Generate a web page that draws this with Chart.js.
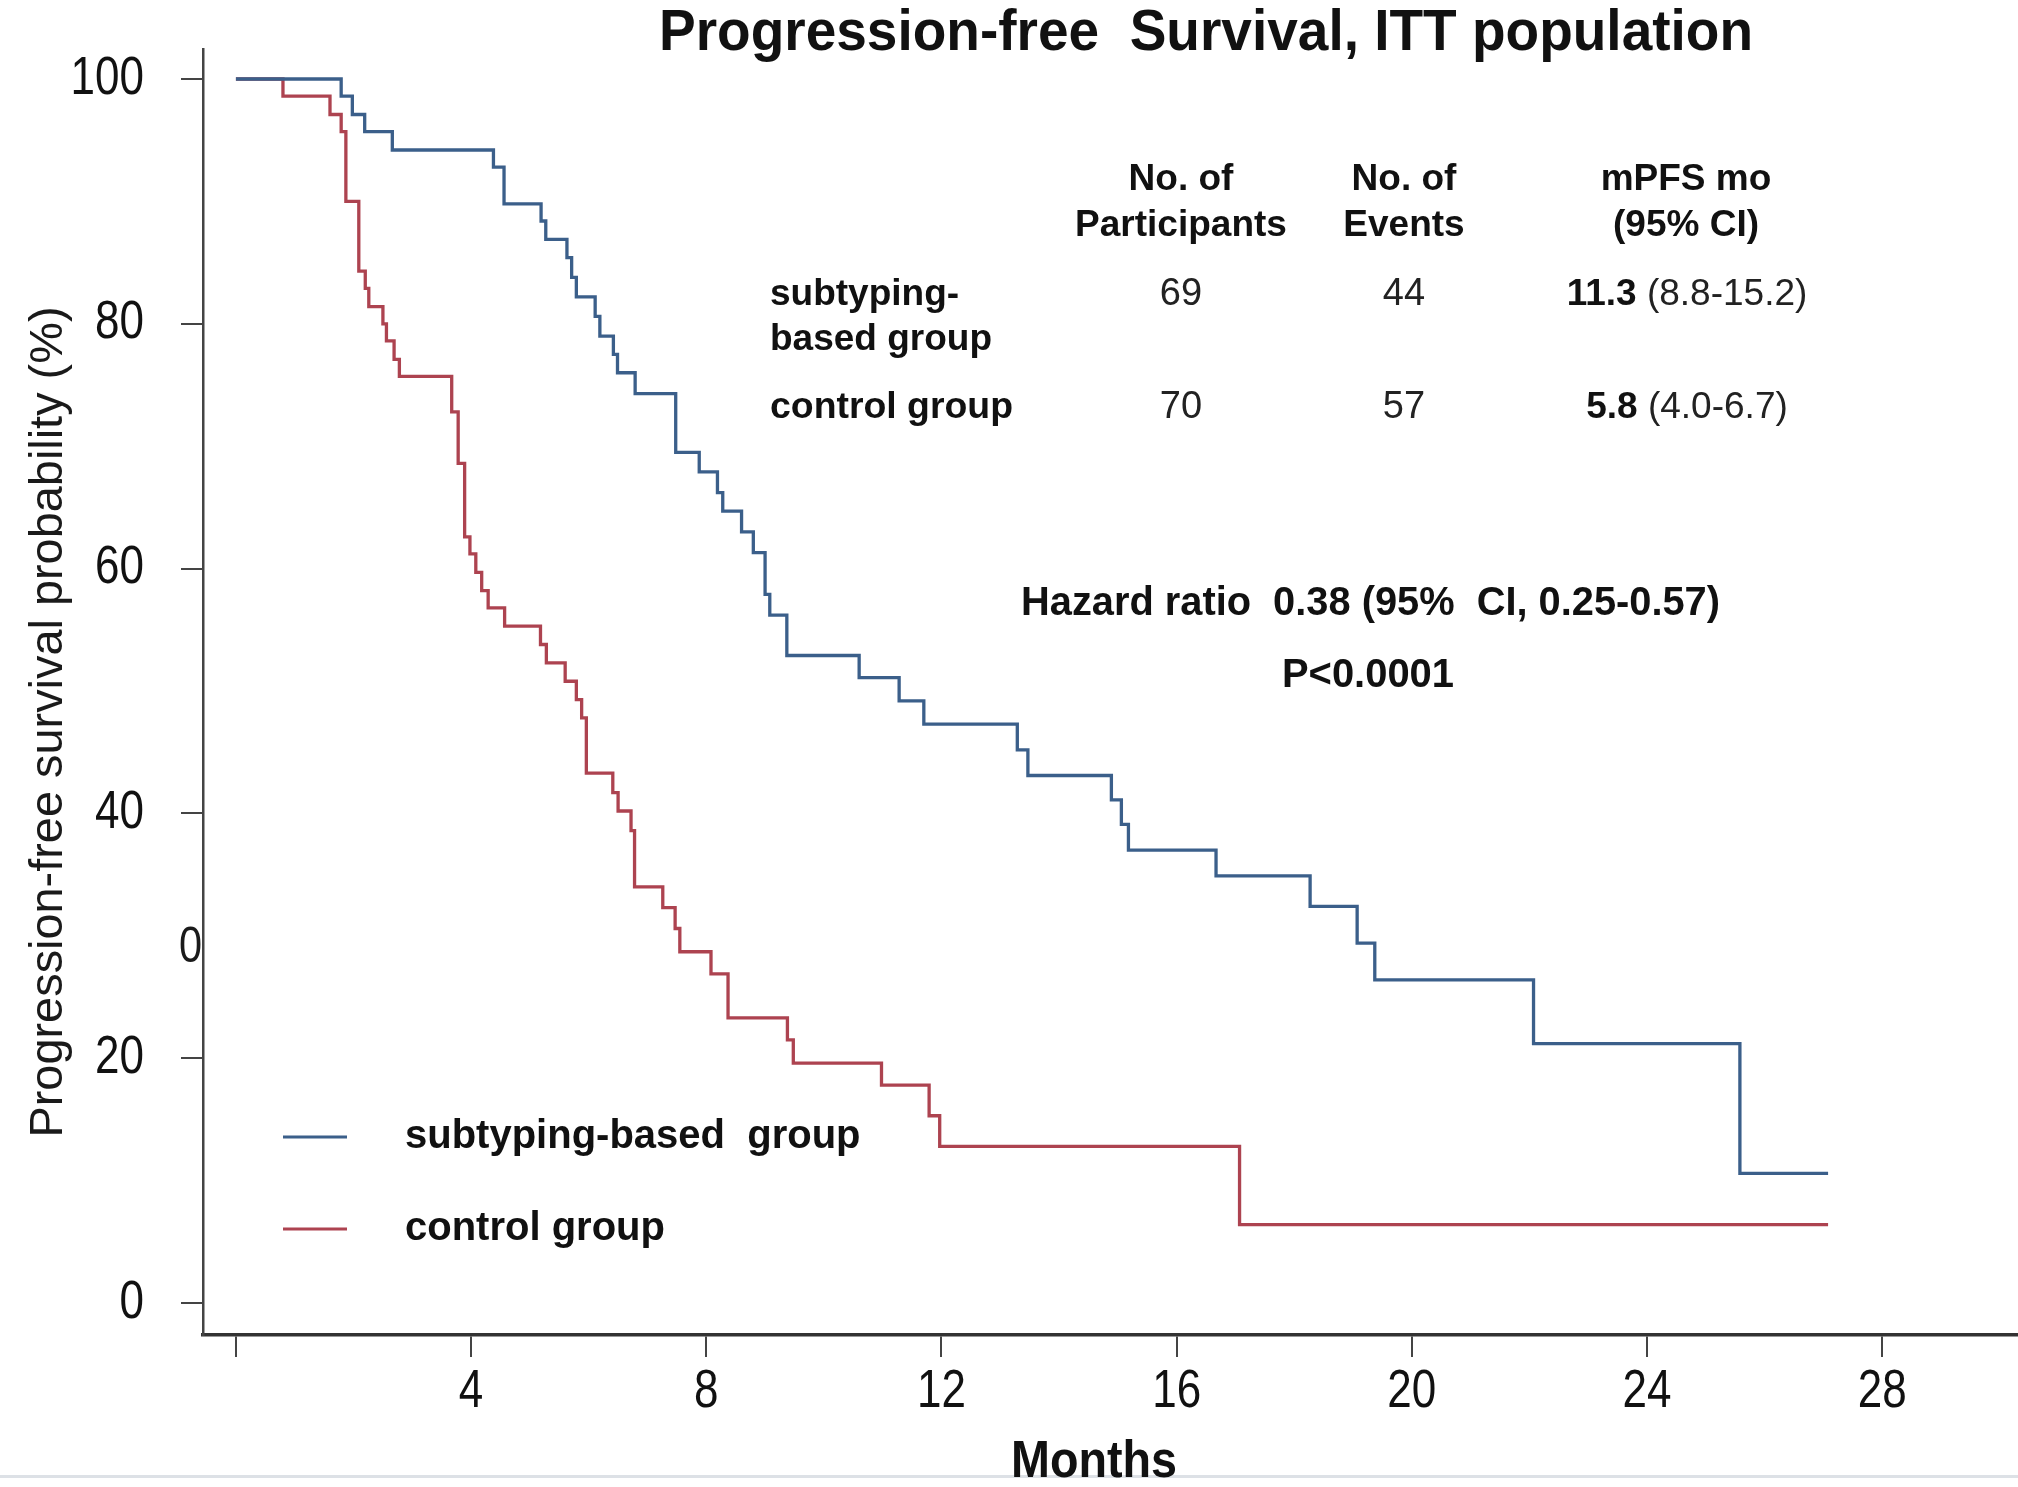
<!DOCTYPE html>
<html>
<head>
<meta charset="utf-8">
<title>Progression-free Survival, ITT population</title>
<script src="https://cdn.jsdelivr.net/npm/chart.js@4.4.1/dist/chart.umd.min.js"></script>
<style>
  html, body { margin: 0; padding: 0; background: #ffffff; }
  #wrap { width: 2018px; height: 1487px; position: relative; }
  canvas { display: block; }
</style>
</head>
<body>
<div id="wrap"><canvas id="km" width="2018" height="1487"></canvas></div>
<script>
// ---- data -------------------------------------------------------------
const monthTicks = [0, 4, 8, 12, 16, 20, 24, 28];
const percentTicks = [0, 20, 40, 60, 80, 100];

// Kaplan-Meier estimates: time (months) of each step and survival (%) after it
const subtypingMonths = [0, 1.79, 1.98, 2.19, 2.66, 4.38, 4.56, 5.19, 5.27, 5.63,
  5.71, 5.79, 6.11, 6.19, 6.42, 6.49, 6.79, 7.48, 7.88, 8.19,
  8.28, 8.60, 8.80, 9.00, 9.08, 9.37, 10.60, 11.28, 11.70, 13.29,
  13.47, 14.89, 15.06, 15.18, 16.67, 18.27, 19.07, 19.37, 22.07, 25.58,
  27.08];
const subtypingPFS = [100, 98.6, 97.1, 95.7, 94.2, 92.8, 89.8, 88.4, 86.9, 85.4,
  83.8, 82.2, 80.6, 79.0, 77.5, 76.0, 74.3, 69.5, 67.9, 66.2,
  64.7, 63.0, 61.3, 57.9, 56.2, 52.9, 51.1, 49.2, 47.3, 45.2,
  43.1, 41.1, 39.1, 37.0, 34.9, 32.4, 29.4, 26.4, 21.2, 10.6,
  10.6];

const controlMonths = [0, 0.80, 1.60, 1.79, 1.87, 2.09, 2.20, 2.26, 2.50, 2.56,
  2.69, 2.78, 3.67, 3.78, 3.89, 3.98, 4.08, 4.18, 4.29, 4.57,
  5.18, 5.28, 5.60, 5.79, 5.88, 5.96, 6.41, 6.50, 6.72, 6.78,
  7.26, 7.47, 7.55, 8.08, 8.37, 9.38, 9.48, 10.98, 11.79, 11.97,
  17.07, 27.08];
const controlPFS = [100, 98.6, 97.1, 95.7, 90.0, 84.3, 82.9, 81.4, 80.0, 78.6,
  77.1, 75.7, 72.8, 68.6, 62.6, 61.2, 59.7, 58.2, 56.8, 55.3,
  53.8, 52.3, 50.8, 49.3, 47.8, 43.3, 41.7, 40.2, 38.6, 34.0,
  32.3, 30.6, 28.7, 26.9, 23.3, 21.5, 19.6, 17.8, 15.3, 12.8,
  6.4, 6.4];

const groupNames = ['subtyping-based  group', 'control group'];

// summary table
const tableHeaders = [['No. of', 'Participants'], ['No. of', 'Events'], ['mPFS mo', '(95% CI)']];
const rowLabels = [['subtyping-', 'based group'], ['control group']];
const participants = ['69', '70'];
const events = ['44', '57'];
const medianPFS = ['11.3', '5.8'];
const medianCI = [' (8.8-15.2)', ' (4.0-6.7)'];
const hazardText = 'Hazard ratio  0.38 (95%  CI, 0.25-0.57)';
const pValueText = 'P<0.0001';

const titleText = 'Progression-free  Survival, ITT population';
const xTitle = 'Months';
const yTitle = 'Progression-free survival probability (%)';

// ---- styling ---------------------------------------------------------
const SANS = '"Liberation Sans", Arial, Helvetica, sans-serif';
const BLUE = '#3b5f8a';
const RED = '#ad4350';
const INK = '#111111';
const TICK_FONT = '53px ' + SANS;
const TICK_SQUEEZE = 0.83;   // condensed numerals on both axes

function toPoints(xs, ys) {
  return xs.map((x, i) => ({ x: x, y: ys[i] }));
}

// text helper: optional horizontal fit (to a width or by a factor) and rotation
function put(ctx, str, x, y, o) {
  ctx.save();
  ctx.font = o.font;
  ctx.fillStyle = o.color || INK;
  ctx.textBaseline = 'middle';
  ctx.textAlign = o.align || 'left';
  const w = ctx.measureText(str).width;
  const sx = o.width ? o.width / w : (o.squeeze || 1);
  ctx.translate(x, y);
  if (o.rotate) ctx.rotate(o.rotate);
  ctx.scale(sx, 1);
  ctx.fillText(str, 0, 0);
  ctx.restore();
}

// two runs (bold + regular) centred on x
function putRuns(ctx, runs, cx, y) {
  ctx.save();
  ctx.textBaseline = 'middle';
  ctx.textAlign = 'left';
  let total = 0;
  const widths = runs.map(r => { ctx.font = r.font; const w = ctx.measureText(r.text).width; total += w; return w; });
  let x = cx - total / 2;
  runs.forEach((r, i) => {
    ctx.font = r.font;
    ctx.fillStyle = r.color || INK;
    ctx.fillText(r.text, x, y);
    x += widths[i];
  });
  ctx.restore();
}

const backdrop = {
  id: 'backdrop',
  beforeDraw(chart) {
    const ctx = chart.ctx;
    ctx.save();
    ctx.fillStyle = '#ffffff';
    ctx.fillRect(0, 0, chart.width, chart.height);
    // page rule along the bottom edge
    ctx.fillStyle = '#dde1e6';
    ctx.fillRect(0, 1475, chart.width, 3);
    ctx.restore();
  }
};

// condensed tick labels placed at the scales' own tick positions
const tickLabels = {
  id: 'tickLabels',
  afterDraw(chart) {
    const ctx = chart.ctx;
    const xs = chart.scales.x;
    const ys = chart.scales.y;
    xs.ticks.forEach(t => {
      if (t.value === 0) return;
      put(ctx, String(t.value), xs.getPixelForValue(t.value), 1392,
        { font: TICK_FONT, align: 'center', squeeze: TICK_SQUEEZE, color: INK });
    });
    ys.ticks.forEach(t => {
      put(ctx, String(t.value), ys.right - 59, ys.getPixelForValue(t.value),
        { font: TICK_FONT, align: 'right', squeeze: TICK_SQUEEZE, color: INK });
    });
    // stray digit at the y axis
    put(ctx, '0', ys.right - 1, 948, { font: '50px ' + SANS, align: 'right', squeeze: TICK_SQUEEZE, color: '#1a1a1a' });
  }
};

const annotations = {
  id: 'annotations',
  afterDraw(chart) {
    const ctx = chart.ctx;
    const bold = s => 'bold ' + s + 'px ' + SANS;
    const reg = s => s + 'px ' + SANS;

    // title
    put(ctx, titleText, 659, 34, { font: bold(57), width: 1094 });

    // axis titles
    put(ctx, xTitle, 1094, 1463, { font: bold(52), width: 166, align: 'center' });
    put(ctx, yTitle, 49, 722, { font: reg(46), width: 831, align: 'center', rotate: -Math.PI / 2, color: '#1a1a1a' });

    // table header
    const colX = [1181, 1404, 1686];
    tableHeaders.forEach((h, i) => {
      put(ctx, h[0], colX[i], 180, { font: bold(37), align: 'center' });
      put(ctx, h[1], colX[i], 226, { font: bold(37), align: 'center' });
    });
    // row labels
    put(ctx, rowLabels[0][0], 770, 295, { font: bold(37) });
    put(ctx, rowLabels[0][1], 770, 340, { font: bold(37) });
    put(ctx, rowLabels[1][0], 770, 408, { font: bold(37), width: 243 });
    // values
    const rowY = [295, 408];
    rowY.forEach((y, r) => {
      put(ctx, participants[r], colX[0], y, { font: reg(38), align: 'center', color: '#222' });
      put(ctx, events[r], colX[1], y, { font: reg(38), align: 'center', color: '#222' });
      putRuns(ctx, [
        { text: medianPFS[r], font: bold(37) },
        { text: medianCI[r], font: reg(37), color: '#222' }
      ], 1687, y);
    });

    put(ctx, hazardText, 1021, 604, { font: bold(40), width: 699 });
    put(ctx, pValueText, 1282, 676, { font: bold(40), width: 172 });

    // legend
    const legendY = [1137, 1229];
    chart.data.datasets.forEach((ds, i) => {
      ctx.save();
      ctx.strokeStyle = ds.borderColor;
      ctx.lineWidth = 3;
      ctx.beginPath();
      ctx.moveTo(283, legendY[i]);
      ctx.lineTo(347, legendY[i]);
      ctx.stroke();
      ctx.restore();
      put(ctx, ds.label, 405, legendY[i], { font: bold(40) });
    });
  }
};

new Chart(document.getElementById('km'), {
  type: 'line',
  data: {
    datasets: [
      {
        label: groupNames[0],
        data: toPoints(subtypingMonths, subtypingPFS),
        borderColor: BLUE,
        borderWidth: 3.3,
        stepped: 'before',
        pointRadius: 0,
        fill: false
      },
      {
        label: groupNames[1],
        data: toPoints(controlMonths, controlPFS),
        borderColor: RED,
        borderWidth: 3.3,
        stepped: 'before',
        pointRadius: 0,
        fill: false
      }
    ]
  },
  options: {
    responsive: false,
    animation: false,
    devicePixelRatio: 1,
    layout: { padding: { left: 0, right: 0, top: 49, bottom: 0 } },
    plugins: {
      legend: { display: false },
      title: { display: false },
      tooltip: { enabled: false }
    },
    scales: {
      x: {
        type: 'linear',
        min: -0.56,
        max: 30.31,
        afterBuildTicks(scale) { scale.ticks = monthTicks.map(v => ({ value: v })); },
        afterFit(scale) { scale.height = 152; scale.paddingLeft = 0; scale.paddingRight = 0; },
        ticks: {
          display: false,
          autoSkip: false,
          maxRotation: 0,
          callback: v => (v === 0 ? '' : String(v))
        },
        grid: { drawOnChartArea: false, drawTicks: true, tickLength: 22, color: '#444', lineWidth: 2 },
        border: { display: true, color: '#333', width: 3.5 }
      },
      y: {
        type: 'linear',
        min: -2.61,
        max: 102.45,
        afterBuildTicks(scale) { scale.ticks = percentTicks.map(v => ({ value: v })); },
        afterFit(scale) { scale.width = 203; scale.paddingTop = 0; scale.paddingBottom = 0; },
        ticks: {
          display: false,
          autoSkip: false,
          callback: v => String(v)
        },
        grid: { drawOnChartArea: false, drawTicks: true, tickLength: 22, color: '#444', lineWidth: 2 },
        border: { display: true, color: '#444', width: 2.5 }
      }
    }
  },
  plugins: [backdrop, tickLabels, annotations]
});
</script>
</body>
</html>
